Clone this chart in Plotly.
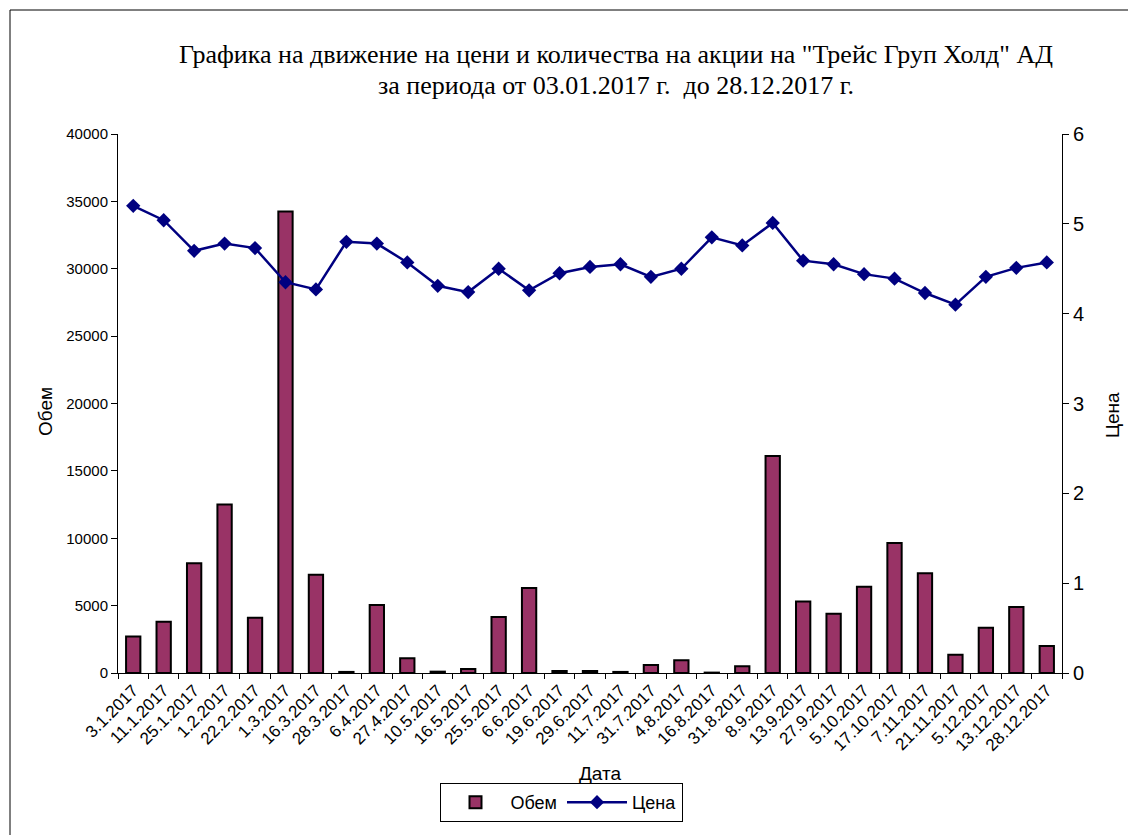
import plotly.graph_objects as go

dates = ["3.1.2017", "11.1.2017", "25.1.2017", "1.2.2017", "22.2.2017", "1.3.2017",
         "16.3.2017", "28.3.2017", "6.4.2017", "27.4.2017", "10.5.2017", "16.5.2017",
         "25.5.2017", "6.6.2017", "19.6.2017", "29.6.2017", "11.7.2017", "31.7.2017",
         "4.8.2017", "16.8.2017", "31.8.2017", "8.9.2017", "13.9.2017", "27.9.2017",
         "5.10.2017", "17.10.2017", "7.11.2017", "21.11.2017", "5.12.2017",
         "13.12.2017", "28.12.2017"]

volume = [2700, 3800, 8150, 12500, 4100, 34250, 7300, 80, 5050, 1100, 100, 300,
          4150, 6300, 150, 150, 80, 600, 950, 30, 500, 16100, 5300, 4400, 6400,
          9650, 7400, 1350, 3350, 4900, 2000]

price = [5.20, 5.04, 4.70, 4.78, 4.73, 4.35, 4.27, 4.80, 4.78, 4.57, 4.31, 4.24,
         4.50, 4.26, 4.45, 4.52, 4.55, 4.41, 4.50, 4.85, 4.76, 5.01, 4.59, 4.55,
         4.44, 4.39, 4.23, 4.10, 4.41, 4.51, 4.57]

OFF = 8  # page body margin
W, H = 1136 - OFF, 835 - OFF
L, R, T, B = 118 - OFF, 1062 - OFF, 134 - OFF, 673 - OFF

def px(x):
    return (x - OFF - L) / (R - L)

def py(y):
    return (B - (y - OFF)) / (B - T)

fig = go.Figure()
fig.add_trace(go.Bar(
    x=dates, y=volume, name="Обем", width=0.47,
    marker=dict(color="#993366", line=dict(color="black", width=2)),
))
fig.add_trace(go.Scatter(
    x=dates, y=price, name="Цена", yaxis="y2", mode="lines+markers",
    line=dict(color="#000080", width=2.5),
    marker=dict(symbol="diamond", size=11, color="#000080"),
))

axis_font = dict(family="Liberation Sans, Arial, sans-serif", color="black")

fig.update_layout(
    width=W, height=H,
    margin=dict(l=L, r=W - R, t=T, b=H - B),
    paper_bgcolor="white", plot_bgcolor="white",
    showlegend=True,
    legend=dict(orientation="h", x=px(561), y=py(783), xanchor="center", yanchor="top",
                bordercolor="black", borderwidth=1,
                font=dict(family="Liberation Sans, Arial, sans-serif", size=18, color="black"),
                itemwidth=60, tracegroupgap=0),
    xaxis=dict(type="category", range=[-0.5, len(dates) - 0.5],
               showline=True, linecolor="black", linewidth=1,
               ticks="outside", ticklen=5, tickcolor="black", tickson="boundaries",
               tickangle=-45, tickfont=dict(size=17, **axis_font),
               showgrid=False, zeroline=False),
    yaxis=dict(range=[0, 40000], dtick=5000, showline=True, linecolor="black", linewidth=1,
               ticks="outside", ticklen=6, tickcolor="black",
               tickfont=dict(size=15, **axis_font), showgrid=False, zeroline=False,
               tickformat="d"),
    yaxis2=dict(range=[0, 6], dtick=1, overlaying="y", side="right", showline=True,
                linecolor="black", linewidth=1, ticks="outside", ticklen=6,
                tickcolor="black", tickfont=dict(size=20, **axis_font),
                showgrid=False, zeroline=False),
    shapes=[dict(type="rect", xref="paper", yref="paper",
                 x0=px(10), x1=px(1150), y0=py(850), y1=py(10),
                 line=dict(color="black", width=1), layer="below")],
    annotations=[
        dict(text='Графика на движение на цени и количества на акции на "Трейс Груп Холд" АД',
             x=px(616), y=py(54), xref="paper", yref="paper", showarrow=False,
             xanchor="center", yanchor="middle",
             font=dict(family="Liberation Serif, serif", size=26, color="black")),
        dict(text="за периода от 03.01.2017 г.  до 28.12.2017 г.",
             x=px(616), y=py(85), xref="paper", yref="paper", showarrow=False,
             xanchor="center", yanchor="middle",
             font=dict(family="Liberation Serif, serif", size=26, color="black")),
        dict(text="Обем", x=px(45), y=py(412), xref="paper", yref="paper",
             showarrow=False, textangle=-90, xanchor="center", yanchor="middle",
             font=dict(size=19, **axis_font)),
        dict(text="Цена", x=px(1112), y=py(415), xref="paper", yref="paper",
             showarrow=False, textangle=-90, xanchor="center", yanchor="middle",
             font=dict(size=19, **axis_font)),
        dict(text="Дата", x=px(600), y=py(773), xref="paper", yref="paper",
             showarrow=False, xanchor="center", yanchor="middle",
             font=dict(size=19, **axis_font)),
    ],
)

fig.write_html("out.html")
